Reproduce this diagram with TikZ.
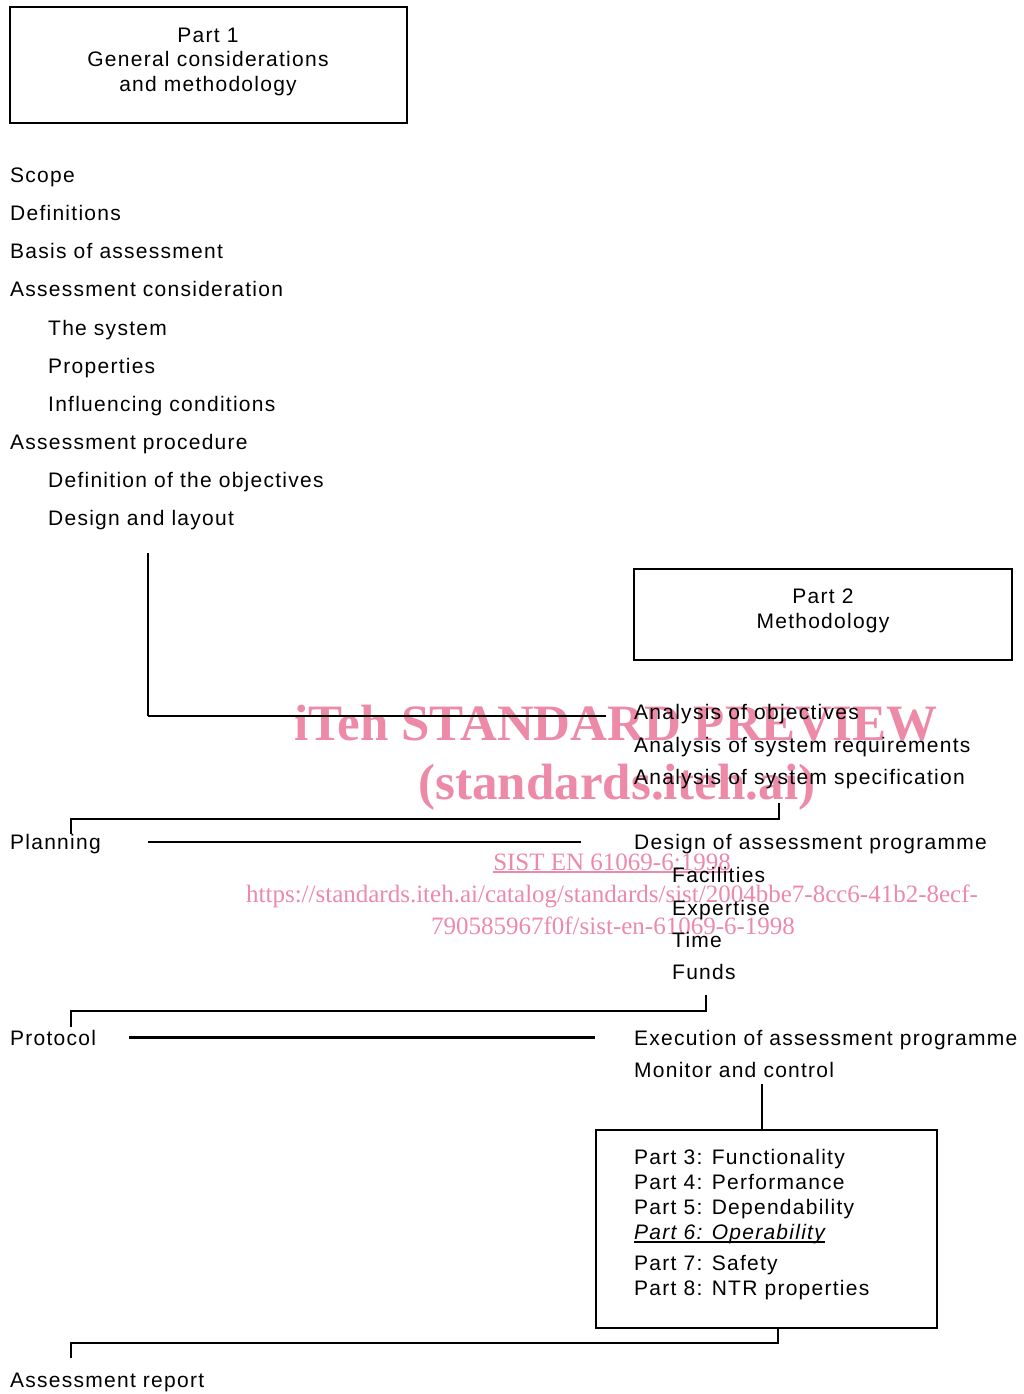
\documentclass[tikz,border=0pt]{standalone}
\usepackage{fontspec}
\setmainfont{Liberation Sans}[LetterSpace=6.0]
\newfontfamily\wmfont{Liberation Serif}
\definecolor{wmpink}{RGB}{236,138,168}
\begin{document}
\begin{tikzpicture}[x=1pt,y=-1pt,
  lbl/.style={anchor=base west, inner sep=0pt, font=\fontsize{21}{24}\selectfont},
  ctext/.style={anchor=base, inner sep=0pt, font=\fontsize{21}{24}\selectfont},
  boxframe/.style={draw, line width=2pt, inner sep=0pt},
  thinline/.style={line width=1.6pt},
  thickline/.style={line width=2.8pt},
  wmbig/.style={anchor=base, inner sep=0pt, text=wmpink, font=\wmfont\bfseries\fontsize{51}{55}\selectfont},
  wmsmall/.style={anchor=base, inner sep=0pt, text=wmpink, font=\wmfont\fontsize{25}{28}\selectfont}
]
\useasboundingbox (0,0) rectangle (1024,1394);

% watermark
\node[wmbig] (wm1) at (616,740) {iTeh STANDARD PREVIEW};
\node[wmbig] (wm2) at (617,799) {(standards.iteh.ai)};
\node[wmsmall] (wm3) at (612,870) {SIST EN 61069-6:1998};
\draw[wmpink, line width=1.2pt] ([yshift=-2pt]wm3.base west) -- ([yshift=-2pt]wm3.base east);
\node[wmsmall] (wm4) at (612,902) {https://standards.iteh.ai/catalog/standards/sist/2004bbe7-8cc6-41b2-8ecf-};
\node[wmsmall] (wm5) at (613,934) {790585967f0f/sist-en-61069-6-1998};

% Part 1 box
\node[boxframe, minimum width=397pt, minimum height=116pt] (p1) at (208.5,64.7) {};
\node[ctext] (p1a) at (208,42.5) {Part 1};
\node[ctext] (p1b) at (208,66.5) {General considerations};
\node[ctext] (p1c) at (208,91.5) {and methodology};

% left list
\node[lbl] (scope) at (10,182.5) {Scope};
\node[lbl] (defs) at (10,220.5) {Definitions};
\node[lbl] (basis) at (10,258.5) {Basis of assessment};
\node[lbl] (acons) at (10,296.5) {Assessment consideration};
\node[lbl] (sys) at (48,335.5) {The system};
\node[lbl] (props) at (48,373.5) {Properties};
\node[lbl] (infl) at (48,411.5) {Influencing conditions};
\node[lbl] (aproc) at (10,449.5) {Assessment procedure};
\node[lbl] (dobj) at (48,487.5) {Definition of the objectives};
\node[lbl] (dlay) at (48,525.5) {Design and layout};

% Part 2 box
\node[boxframe, minimum width=378pt, minimum height=91pt] (p2) at (823,614.5) {};
\node[ctext] (p2a) at (823,603.5) {Part 2};
\node[ctext] (p2b) at (823,628.5) {Methodology};

% right column
\node[lbl] (aobj) at (634,719.5) {Analysis of objectives};
\node[lbl] (areq) at (634,752.5) {Analysis of system requirements};
\node[lbl] (aspec) at (634,784.5) {Analysis of system specification};

\node[lbl] (plan) at (10,849.5) {Planning};
\node[lbl] (dprog) at (634,849.5) {Design of assessment programme};
\node[lbl] (fac) at (672,882.5) {Facilities};
\node[lbl] (exp) at (672,915.5) {Expertise};
\node[lbl] (time) at (672,947.5) {Time};
\node[lbl] (funds) at (672,979.5) {Funds};

\node[lbl] (proto) at (10,1045.5) {Protocol};
\node[lbl] (exec) at (634,1045.5) {Execution of assessment programme};
\node[lbl] (mon) at (634,1077.5) {Monitor and control};

% Part 3-8 box
\node[boxframe, minimum width=341.3pt, minimum height=197.7pt] (p3) at (766.35,1228.85) {};
\node[lbl] (t3) at (634,1164.5) {Part 3: Functionality};
\node[lbl] (t4) at (634,1189.5) {Part 4: Performance};
\node[lbl] (t5) at (634,1214.5) {Part 5: Dependability};
\node[lbl] (t6) at (634,1239.5) {\itshape Part 6: Operability};
\draw[line width=1.6pt] ([yshift=-2.5pt]t6.base west) -- ([yshift=-2.5pt]t6.base east);
\node[lbl] (t7) at (634,1270.5) {Part 7: Safety};
\node[lbl] (t8) at (634,1295.5) {Part 8: NTR properties};

\node[lbl] (rep) at (10,1387.5) {Assessment report};

% connectors
\coordinate (c1top) at (148,553);
\coordinate (c1end) at (606,716);
\draw[thinline] (c1top) -- (c1top |- c1end);
\draw[thickline] (148,716) -- (c1end);

\coordinate (b1a) at (779,803);
\coordinate (b1b) at (71,834);
\draw[thinline] (b1a) |- (71,819) -- (b1b);

\coordinate (pl1) at (148,842);
\coordinate (pl2) at (581,842);
\draw[thickline] (pl1) -- (pl2);

\coordinate (b2a) at (706,995);
\coordinate (b2b) at (71,1027);
\draw[thinline] (b2a) |- (71,1011) -- (b2b);

\coordinate (pr1) at (129,1037.5);
\coordinate (pr2) at (595,1037.5);
\draw[thickline] (pr1) -- (pr2);

\coordinate (v3) at (762,1084);
\draw[line width=2pt] (v3) -- (v3 |- p3.north);

\coordinate (b3b) at (71,1358);
\draw[thinline] (778,1328) |- (71,1343) -- (b3b);
\end{tikzpicture}
\end{document}
